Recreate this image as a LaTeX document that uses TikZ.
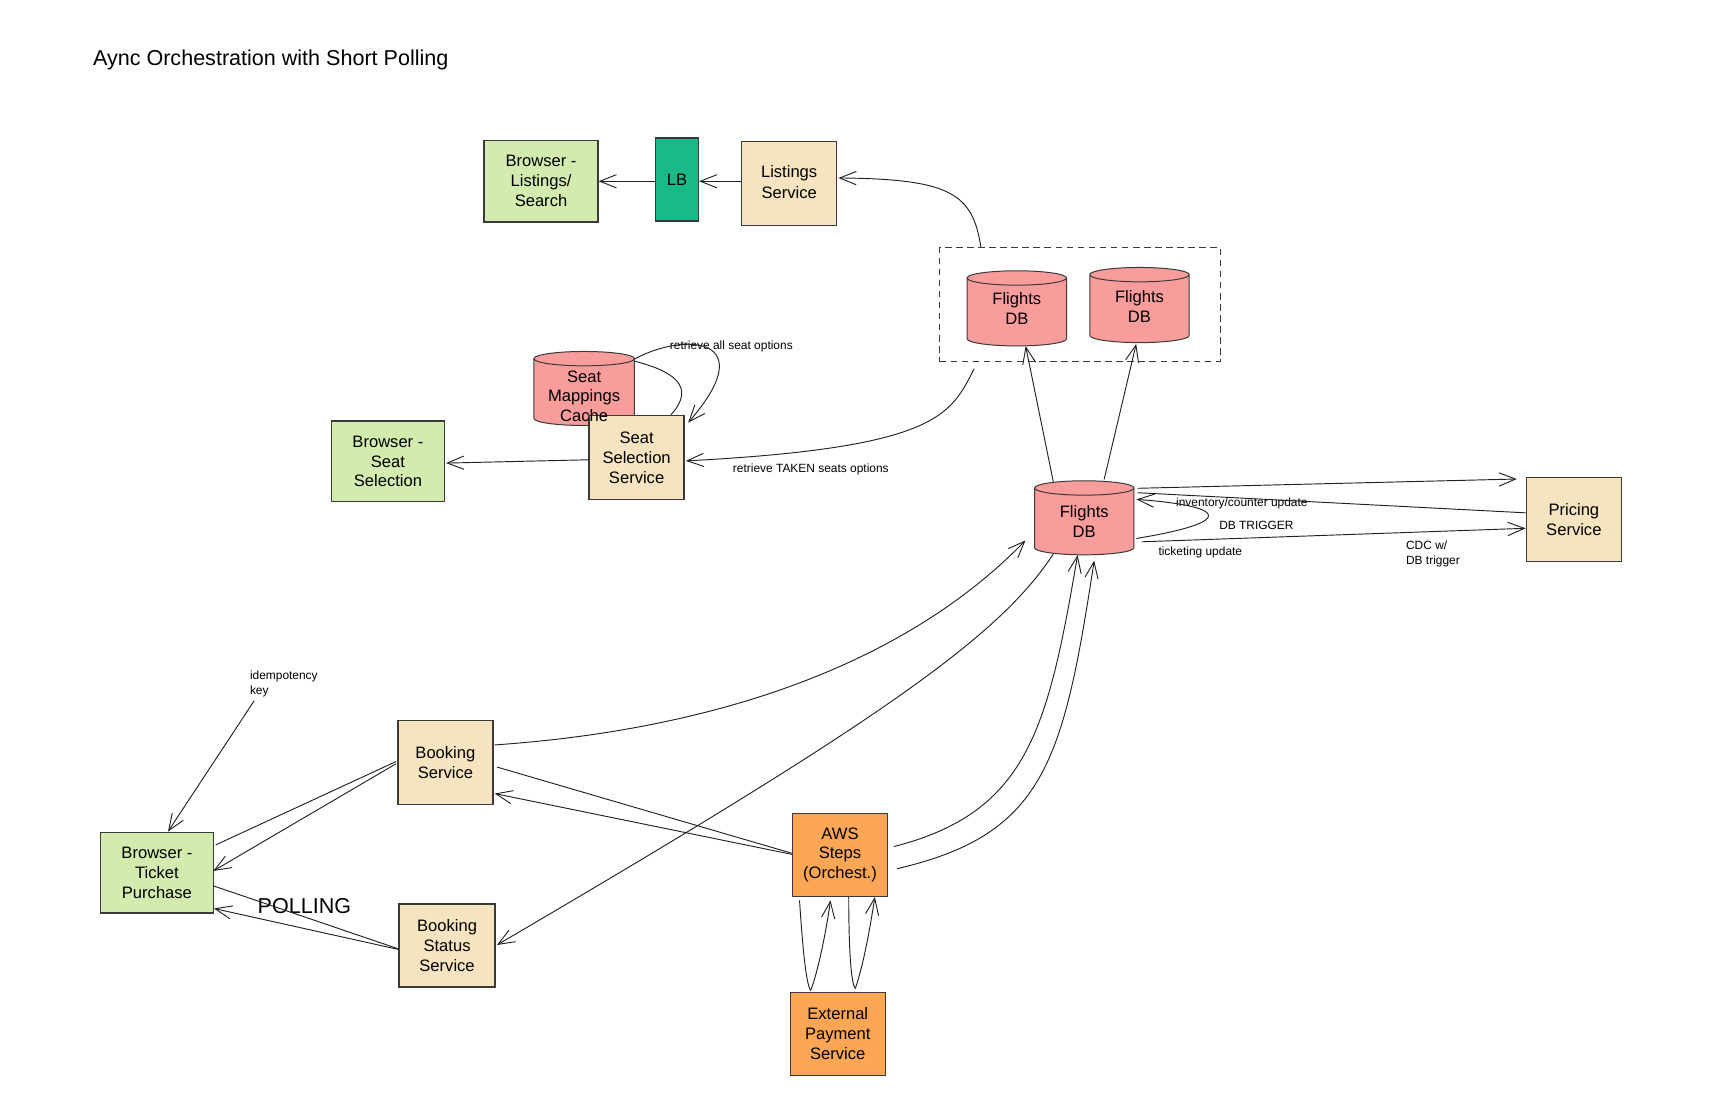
\documentclass[tikz,border=0pt]{standalone}
\usepackage{fontspec}
\setmainfont{Liberation Sans}
\usetikzlibrary{arrows.meta,calc}
\definecolor{cgreen}{HTML}{D4EBAF}
\definecolor{cbeige}{HTML}{F5E4BF}
\definecolor{cteal}{HTML}{1BB98A}
\definecolor{cred}{HTML}{F89C9C}
\definecolor{corange}{HTML}{FCA656}
\definecolor{cborder}{HTML}{3A3A3A}
\definecolor{cline}{HTML}{222222}
\tikzset{
  box/.style={draw=cborder, line width=1.2pt, align=center, inner sep=0pt, font=\fontsize{15}{18}\selectfont},
  cyltext/.style={align=center, inner sep=0pt, font=\fontsize{15}{18}\selectfont},
  cylframe/.style={inner sep=0pt},
  conn/.style={draw=cline, line width=0.85pt},
  arr/.style={conn, -{Straight Barb[length=15pt,width=12pt]}},
  small/.style={font=\fontsize{10.8}{13.5}\selectfont, inner sep=0pt, align=left},
  bigtxt/.style={font=\fontsize{19.5}{23}\selectfont, inner sep=0pt},
}
\newcommand{\cylshape}[4]{%
  \pgfmathsetmacro{\cylrx}{(#2-#1)/2}%
  \filldraw[fill=cred, draw=cborder, line width=0.9pt] (#1,#3+6.5) -- (#1,#4-6.5)
    arc[start angle=180,end angle=0,x radius=\cylrx,y radius=6.5] -- (#2,#3+6.5)
    arc[start angle=0,end angle=-180,x radius=\cylrx,y radius=6.5] -- cycle;
  \draw[draw=cborder, line width=0.9pt] (#1,#3+6.5) arc[start angle=180,end angle=0,x radius=\cylrx,y radius=6.5];
}
\begin{document}
\begin{tikzpicture}[x=1pt,y=-1pt]
\useasboundingbox (0,0) rectangle (1568,993);
% title
\node[bigtxt, anchor=west] (title) at (84,54) {Aync Orchestration with Short Polling};

% dashed group
\node[draw=cborder, dash pattern=on 6pt off 4pt, line width=1.1pt, minimum width=254pt, minimum height=103pt, inner sep=0pt] (fgrp) at (977,275.5) {};

% cylinders
\cylshape{875}{965}{245}{313}
\node[cylframe, minimum width=90pt, minimum height=68pt] (fdb1) at (920,279) {};
\node[cyltext] (fdb1T) at (920,279.5) {Flights\\DB};
\cylshape{986}{1076}{242}{310}
\node[cylframe, minimum width=90pt, minimum height=68pt] (fdb2) at (1031,276) {};
\node[cyltext] (fdb2T) at (1031,277.5) {Flights\\DB};
\cylshape{936}{1026}{435}{502}
\node[cylframe, minimum width=90pt, minimum height=67pt] (fdb) at (981,468.5) {};
\node[cyltext] (fdbT) at (981,471.5) {Flights\\DB};
\cylshape{483}{574}{318}{385}
\node[cylframe, minimum width=91pt, minimum height=67pt] (cache) at (528.5,351.5) {};

% boxes
\node[box, fill=cgreen, minimum width=103pt, minimum height=74pt] (bls) at (489.5,164) {Browser -\\Listings/\\Search};
\node[box, fill=cteal, minimum width=39pt, minimum height=75pt] (lb) at (612.5,162.5) {LB};
\node[box, fill=cbeige, minimum width=86pt, minimum height=76pt] (ls) at (714,166) {\raisebox{2pt}{\shortstack{Listings\\[2pt]Service}}};
\node[box, fill=cgreen, minimum width=102pt, minimum height=73pt] (bss) at (351,417.5) {Browser -\\Seat\\Selection};
\node[box, fill=cbeige, minimum width=86pt, minimum height=76pt] (sss) at (576,414) {Seat\\Selection\\Service};
\node[cyltext] (cacheT) at (528.5,358.5) {Seat\\Mappings\\Cache};
\node[box, fill=cgreen, minimum width=102pt, minimum height=73pt] (btp) at (142,789.5) {Browser -\\Ticket\\Purchase};
\node[box, fill=cbeige, minimum width=86pt, minimum height=76pt] (bks) at (403,690) {Booking\\Service};
\node[box, fill=cbeige, minimum width=87pt, minimum height=75pt] (bst) at (404.5,855.5) {Booking\\Status\\Service};
\node[box, fill=corange, minimum width=86pt, minimum height=75pt] (aws) at (760,773.5) {AWS\\Steps\\(Orchest.)};
\node[box, fill=corange, minimum width=86pt, minimum height=75pt] (pay) at (758,935.5) {External\\Payment\\Service};
\node[box, fill=cbeige, minimum width=86pt, minimum height=76pt] (prc) at (1424,470) {Pricing\\Service};

% labels
\node[small, anchor=west] (lbl1) at (606,313.5) {retrieve all seat options};
\node[small, anchor=west] (lbl2) at (663,424.5) {retrieve TAKEN seats options};
\node[small, anchor=west] (lbl3) at (1064,455.5) {inventory/counter update};
\node[small, anchor=west] (lbl4) at (1103,475) {DB TRIGGER};
\node[small, anchor=west] (lbl5) at (1048,499.5) {ticketing update};
\node[small, anchor=west] (lbl6) at (1272,501.5) {CDC w/\\DB trigger};
\node[small, anchor=west] (lbl7) at (226,618.5) {idempotency\\key};
\node[bigtxt, anchor=west] (poll) at (233,820) {POLLING};

% connectors: top row
\draw[arr] ($(ls.west)+(0,-2)$) -- ($(lb.east)+(0,1.5)$);
\draw[arr] ($(lb.west)+(0,1.5)$) -- (bls.east);
\draw[arr] ($(fgrp.north west)+(38,0)$) .. controls (880,175) and (860,162) .. ($(ls.east)+(1,-5)$);
% seat selection
\draw[arr] ($(fgrp.south west)+(32,6)$) .. controls (860,375) and (850,405) .. ($(sss.east)+(1,3)$);
\draw[conn] ($(cache.north east)+(0,9)$) .. controls (610,336) and (630,350) .. ($(sss.north)+(31,0)$);
\draw[arr] ($(cache.north east)+(0,7)$) .. controls (620,300) and (690,305) .. ($(sss.north east)+(3,7)$);
\draw[arr] ($(sss.west)+(0,2)$) -- ($(bss.east)+(1,1.5)$);
% flights db replicas
\draw[arr] ($(fdb.north)+(-28,1)$) -- ($(fdb1.south)+(8,0)$);
\draw[arr] ($(fdb.north)+(18,-1)$) -- ($(fdb2.south)+(-3,1)$);
% pricing
\draw[arr] ($(fdb.north east)+(3,7)$) -- ($(prc.north west)+(-8,2)$);
\draw[conn] ($(prc.west)+(0,-6)$) -- ($(fdb.north east)+(3,11)$);
\draw[arr] ($(fdb.south east)+(2,-15)$) .. controls (1120,472) and (1110,458) .. ($(fdb.north east)+(2,17)$);
\draw[arr] ($(fdb.south east)+(7,-12)$) -- ($(prc.west)+(0,8)$);
% ticket purchase
\coordinate (idemstart) at (230,634);
\draw[arr] (idemstart) -- ($(btp.north)+(10,0)$);
\draw[conn] ($(btp.east)+(1.5,-25)$) -- ($(bks.west)+(-1,-1)$);
\draw[arr] ($(bks.west)+(-1,1)$) -- ($(btp.east)+(-0.6,-1.5)$);
\draw[conn] ($(btp.east)+(-0.6,12)$) -- ($(bst.west)+(0,3)$);
\draw[arr] ($(bst.west)+(0,3.5)$) -- ($(btp.east)+(0,32.5)$);
\draw[arr] ($(bks.east)+(1,-16)$) .. controls (650,660) and (820,600) .. ($(fdb.west)+(-8,20.5)$);
\draw[arr] ($(fdb.south)+(-28,-1)$) .. controls (905,575) and (800,650) .. ($(bst.east)+(1,-0.5)$);
\draw[conn] ($(bks.east)+(3,4)$) -- ($(aws.west)+(0,-1.5)$);
\draw[arr] ($(aws.west)+(0,-0.5)$) -- ($(bks.east)+(1,28)$);
\draw[arr] ($(aws.east)+(5,-7.5)$) .. controls (930,735) and (948,660) .. ($(fdb.south)+(-6,0)$);
\draw[arr] ($(aws.east)+(8,12.5)$) .. controls (945,755) and (962,690) .. ($(fdb.south)+(9,5)$);
% payment
\draw[conn] ($(aws.south west)+(7,3)$) .. controls (727,870) and (730,890) .. ($(pay.north west)+(19,-1)$);
\draw[arr] ($(pay.north west)+(19,-1)$) .. controls (740,880) and (748,840) .. ($(aws.south west)+(35,3)$);
\draw[conn] ($(aws.south west)+(51.5,0)$) .. controls (768,860) and (770,890) .. ($(pay.north west)+(59.5,-3)$);
\draw[arr] ($(pay.north west)+(59.5,-3)$) .. controls (782,870) and (787,840) .. ($(aws.south east)+(-12,0)$);
\end{tikzpicture}
\end{document}
